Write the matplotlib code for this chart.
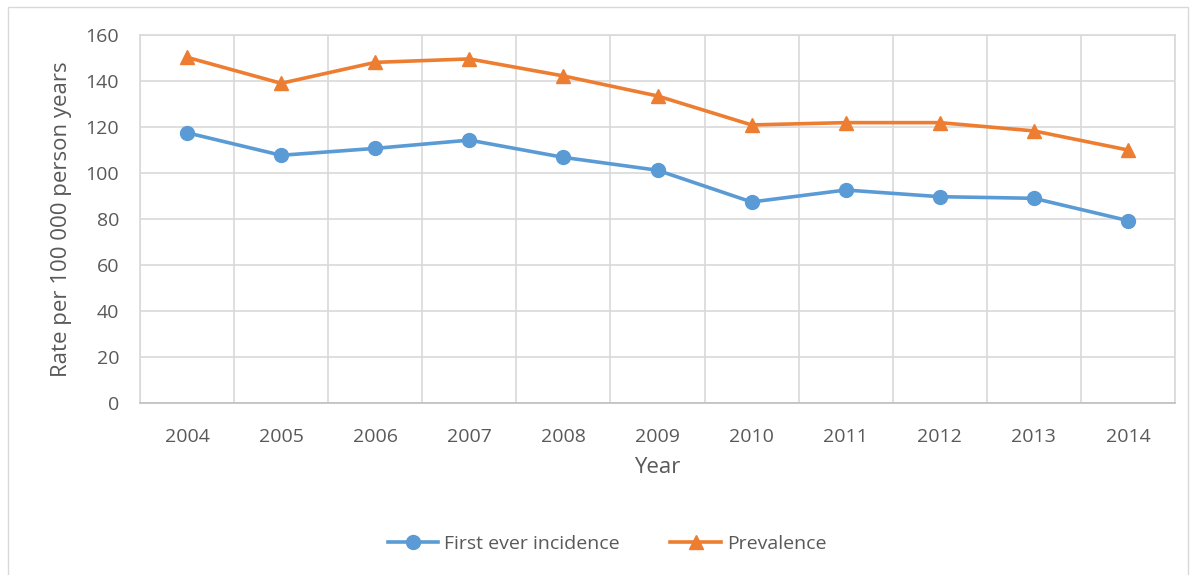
import matplotlib
matplotlib.use("Agg")
import matplotlib.pyplot as plt
import numpy as np

years = ["2004", "2005", "2006", "2007", "2008", "2009", "2010", "2011", "2012", "2013", "2014"]
incidence = [117.5, 107.7, 110.7, 114.3, 106.8, 101.2, 87.4, 92.6, 89.7, 89.0, 79.3]
prevalence = [150.3, 139.0, 148.1, 149.6, 142.2, 133.5, 120.9, 121.9, 121.9, 118.3, 110.0]
yticks = [0, 20, 40, 60, 80, 100, 120, 140, 160]

plt.rcParams['font.family'] = ['Open Sans', 'DejaVu Sans']
txt = '#595959'
grid = '#D9D9D9'
blue = '#5B9BD5'
orange = '#ED7D31'

fig = plt.figure(figsize=(11.96, 5.75), dpi=100)
# outer chart border
fig.patches.append(plt.Rectangle((8/1196, -0.01), (1188-8)/1196, 1 - 7/575 + 0.01,
                                 transform=fig.transFigure, fill=False,
                                 edgecolor=grid, linewidth=1))
ax = fig.add_axes([140/1196, 1 - 403/575, (1175-140)/1196, (403-35)/575])

x = np.arange(len(years))
ax.plot(x, incidence, color=blue, lw=2.6, marker='o', markersize=10,
        label='First ever incidence', zorder=3)
ax.plot(x, prevalence, color=orange, lw=2.6, marker='^', markersize=10,
        label='Prevalence', zorder=3)

ax.set_xlim(-0.5, len(years) - 0.5)
ax.set_ylim(0, 160)
ax.set_yticks(yticks)
ax.set_xticks(x)
ax.set_xticklabels(years)
ax.set_xticks(np.arange(-0.5, len(years), 1), minor=True)
ax.grid(True, which='minor', axis='x', color=grid, lw=1.2)
ax.grid(True, which='major', axis='y', color=grid, lw=1.2)
ax.set_axisbelow(True)
ax.tick_params(which='both', length=0, labelsize=14, colors=txt)
ax.tick_params(axis='x', pad=18)
ax.tick_params(axis='y', pad=15)
for s in ['top', 'right', 'left']:
    ax.spines[s].set_color(grid)
    ax.spines[s].set_linewidth(1.2)
ax.spines['bottom'].set_color('#BFBFBF')
ax.spines['bottom'].set_linewidth(1.2)

ax.set_xlabel('Year', fontsize=16, color=txt, labelpad=8)
ax.set_ylabel('Rate per 100 000 person years', fontsize=16, color=txt, labelpad=10)

leg = ax.legend(loc='center', bbox_to_anchor=(607/1196, 1 - 544/575),
                bbox_transform=fig.transFigure, ncol=2, frameon=False,
                fontsize=14, handlelength=2.6, columnspacing=2.6, handletextpad=0.3)
for t in leg.get_texts():
    t.set_color(txt)

fig.savefig('out.png', dpi=100)
